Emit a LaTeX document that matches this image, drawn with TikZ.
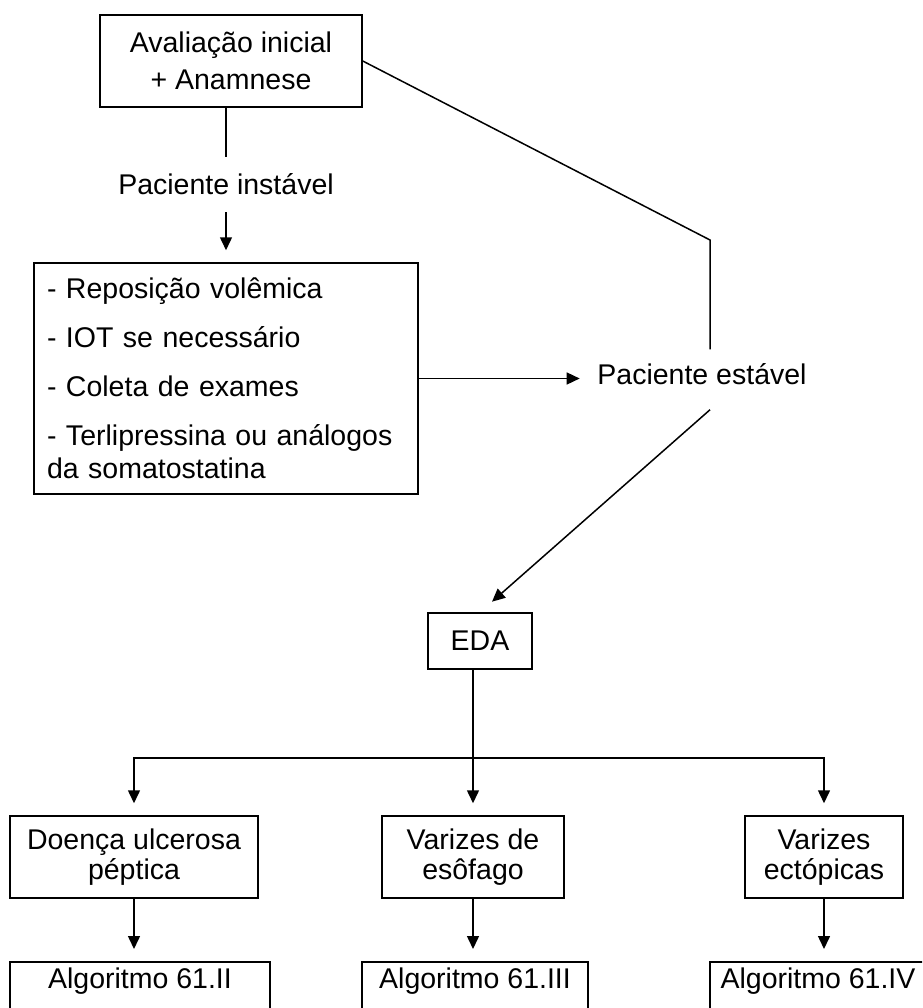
\documentclass[tikz,border=0pt]{standalone}
\usepackage{fontspec}
\setmainfont{Liberation Sans}
\usetikzlibrary{positioning, calc, arrows.meta}

\begin{document}
\begin{tikzpicture}[x=1pt, y=-1pt, line width=1.5pt,
    >={Triangle[length=13pt,width=12pt]},
    caixa/.style={draw, inner sep=0pt, align=center, font=\fontsize{28.5}{30}\selectfont},
    texto/.style={inner sep=0pt, font=\fontsize{28.5}{30}\selectfont},
    seta/.style={->, shorten >=12pt}]
      \useasboundingbox (0,0) rectangle (922,1008);
      \clip (0,0) rectangle (922,1008);

      \node[caixa, minimum width=262, minimum height=92, font=\fontsize{28.5}{37}\selectfont] (AV) at (231,61) {Avaliação inicial\\+ Anamnese};

      \node[texto, anchor=base, text height=21pt, inner ysep=16pt] (PI) at (226,195) {Paciente instável};

      \node[caixa, align=left, text width=358pt, inner xsep=13pt, minimum height=231, font=\fontsize{28.5}{33}\selectfont] (CD) at (226,378.5) {- Reposição volêmica\\[16pt]
        - IOT se necessário\\[16pt]
        - Coleta de exames\\[16pt]
        - Terlipressina ou análogos\\
        da somatostatina};

      \node[texto, anchor=base, text height=21pt, text depth=12pt, inner ysep=13pt] (PE) at (702,384) {Paciente estável};
      \coordinate (K1) at (710,240);

      \node[caixa, minimum width=104, minimum height=56] (EDA) at (480,641) {EDA};
      \coordinate (B) at (473,758);

      \node[caixa, minimum width=248, minimum height=82] (DU) at (134,857) {Doença ulcerosa\\péptica};
      \node[caixa, minimum width=182, minimum height=82] (VE) at (473,857) {Varizes de\\esôfago};
      \node[caixa, minimum width=158, minimum height=82] (VX) at (824,857) {Varizes\\ectópicas};

      \node[caixa, anchor=north, minimum width=260, text height=19pt, text depth=30pt, inner ysep=8pt] (ALG2) at (140,961) {Algoritmo 61.II};
      \node[caixa, anchor=north, minimum width=226, text height=19pt, text depth=30pt, inner ysep=8pt] (ALG3) at (475,961) {Algoritmo 61.III};
      \node[caixa, anchor=north, minimum width=216, text height=19pt, text depth=30pt, inner ysep=8pt] (ALG4) at (818,961) {Algoritmo 61.IV};

      \draw (AV.south -| PI.north) -- (PI.north);
      \draw[seta] (node cs:name=PI, anchor=south) -- (node cs:name=CD, anchor=north);
      \draw (node cs:name=AV, anchor=east) -- (K1) -- (K1 |- PE.north);
      \draw[seta, shorten >=17pt] (CD.east) -- (CD.east -| PE.west);
      \draw[seta, shorten >=16pt] (K1 |- PE.south) -- (node cs:name=EDA, anchor=north);

      \draw (EDA.south -| B) -- (B);
      \draw[seta] (B) -| (DU.north);
      \draw[seta] (B) -- (VE.north);
      \draw[seta] (B) -| (VX.north);

      \draw[seta] (DU.south) -- (DU.south |- ALG2.north);
      \draw[seta] (VE.south) -- (VE.south |- ALG3.north);
      \draw[seta] (VX.south) -- (VX.south |- ALG4.north);
\end{tikzpicture}
\end{document}
